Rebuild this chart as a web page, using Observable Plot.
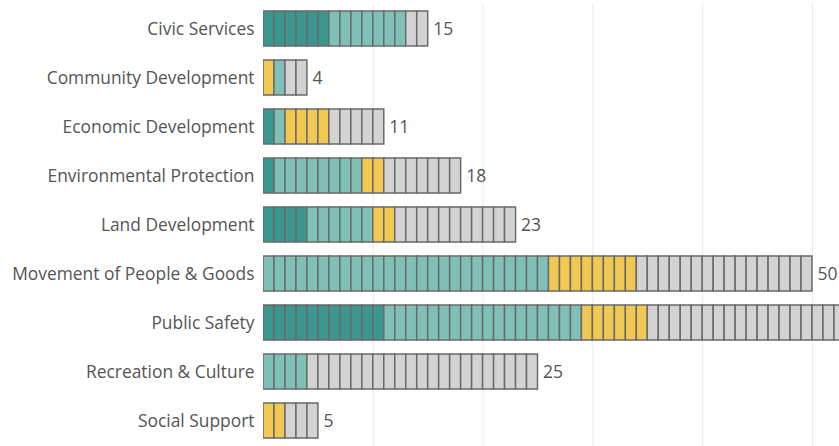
<!DOCTYPE html>
<html>
<head>
<meta charset="utf-8">
<script src="https://cdn.jsdelivr.net/npm/d3@7"></script>
<script src="https://cdn.jsdelivr.net/npm/@observablehq/plot@0.6"></script>
<style>
  html, body { margin: 0; padding: 0; background: #fff; overflow: hidden; }
  #chart { width: 839px; height: 446px; }
</style>
</head>
<body>
<div id="chart"></div>
<script>
const categories = [
  "Civic Services",
  "Community Development",
  "Economic Development",
  "Environmental Protection",
  "Land Development",
  "Movement of People & Goods",
  "Public Safety",
  "Recreation & Culture",
  "Social Support"
];
// unit counts per status, in drawing order
const darkTeal  = [6, 0, 1, 1, 4, 0, 11, 0, 0];
const lightTeal = [7, 1, 1, 8, 6, 26, 18, 4, 0];
const yellow    = [0, 1, 4, 2, 2, 8, 6, 0, 2];
const gray      = [2, 2, 5, 7, 11, 16, 22, 21, 3];
const orderPerRow = [
  ["dark", "light", "yellow", "gray"],
  ["yellow", "light", "dark", "gray"],
  ["dark", "light", "yellow", "gray"],
  ["dark", "light", "yellow", "gray"],
  ["dark", "light", "yellow", "gray"],
  ["dark", "light", "yellow", "gray"],
  ["dark", "light", "yellow", "gray"],
  ["dark", "light", "yellow", "gray"],
  ["dark", "light", "yellow", "gray"]
];
const statuses = ["dark", "light", "yellow", "gray"];
const statusColors = ["#3b968d", "#7fc1b7", "#f1c852", "#d3d3d3"];
const gridTicks = [10, 20, 30, 40, 50];
const xMax = 52.46; // visible extent of the reference's x axis

const counts = {dark: darkTeal, light: lightTeal, yellow: yellow, gray: gray};
const cells = [];
const totals = [];
categories.forEach((cat, r) => {
  let i = 0;
  for (const s of orderPerRow[r]) {
    for (let k = 0; k < counts[s][r]; k++) {
      cells.push({category: cat, status: s, x1: i, x2: i + 1});
      i++;
    }
  }
  totals.push({category: cat, total: i});
});
// the reference crops the label of any bar running past the right edge
const visibleTotals = totals.filter(d => d.total < xMax);

const chart = Plot.plot({
  width: 839,
  height: 446,
  marginLeft: 263,
  marginRight: 0,
  marginTop: 3,
  marginBottom: 0,
  style: {fontFamily: "Open Sans", fontSize: "17px", color: "#555", background: "#fff"},
  x: {domain: [0, xMax], axis: null},
  y: {domain: categories, paddingInner: 0.29, paddingOuter: 0.15, label: null},
  color: {domain: statuses, range: statusColors},
  marks: [
    Plot.ruleX(gridTicks, {stroke: "#ebebeb", strokeWidth: 1}),
    Plot.barX(cells, {
      x1: "x1", x2: "x2", y: "category", fill: "status",
      stroke: "#6a6a6a", strokeWidth: 1.5, clip: true
    }),
    Plot.ruleX(visibleTotals, {x: "total", y: "category", stroke: "#8a8a8a", strokeWidth: 1.2, insetTop: -7, insetBottom: -5}),
    Plot.text(visibleTotals, {
      x: "total", y: "category", text: d => String(d.total),
      textAnchor: "start", dx: 5, fontSize: 17.5, fill: "#555"
    }),
    Plot.axisY({tickSize: 0, tickPadding: 9, fontSize: 17.4, label: null, fill: "#555"})
  ]
});
document.getElementById("chart").append(chart);
</script>
</body>
</html>
